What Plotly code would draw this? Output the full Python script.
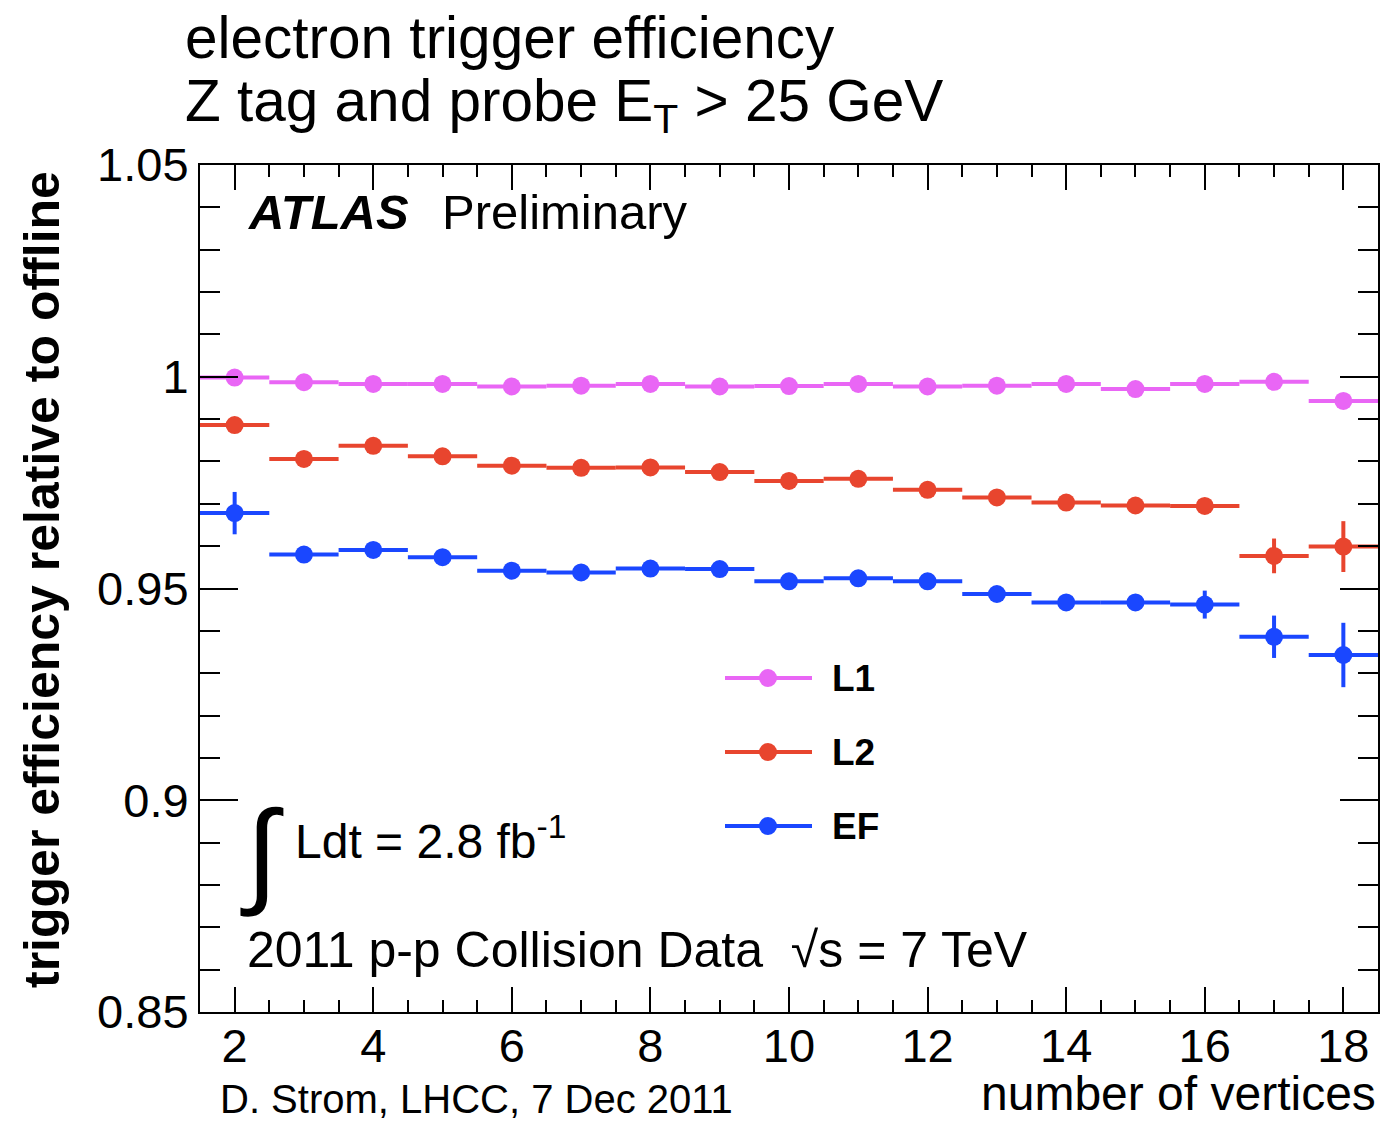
import plotly.graph_objects as go

# ---------------- data ----------------
n_vertices = [2, 3, 4, 5, 6, 7, 8, 9, 10, 11, 12, 13, 14, 15, 16, 17, 18]
bin_half_width = [0.5] * 17

eff_L1 = [0.9998, 0.9987, 0.9983, 0.9983, 0.9977, 0.9979, 0.9983, 0.9977, 0.9978,
          0.9983, 0.9977, 0.9979, 0.9983, 0.9971, 0.9983, 0.9988, 0.9943]
err_L1 = [0.0003, 0.0002, 0.0002, 0.0002, 0.0002, 0.0002, 0.0002, 0.0002, 0.0002,
          0.0002, 0.0002, 0.0002, 0.0003, 0.0003, 0.0003, 0.0005, 0.0008]

eff_L2 = [0.9886, 0.9806, 0.9837, 0.9812, 0.9790, 0.9785, 0.9786, 0.9775, 0.9754,
          0.9759, 0.9733, 0.9715, 0.9703, 0.9696, 0.9695, 0.9577, 0.9599]
err_L2 = [0.0009, 0.0005, 0.0005, 0.0005, 0.0005, 0.0005, 0.0005, 0.0005, 0.0005,
          0.0006, 0.0006, 0.0007, 0.0008, 0.0008, 0.0009, 0.0041, 0.0060]

eff_EF = [0.9678, 0.9580, 0.9591, 0.9574, 0.9542, 0.9538, 0.9547, 0.9546, 0.9517,
          0.9524, 0.9517, 0.9487, 0.9467, 0.9467, 0.9462, 0.9386, 0.9343]
err_EF = [0.0050, 0.0009, 0.0006, 0.0006, 0.0006, 0.0006, 0.0006, 0.0006, 0.0007,
          0.0007, 0.0008, 0.0009, 0.0010, 0.0012, 0.0033, 0.0050, 0.0076]

series_names = ["L1", "L2", "EF"]
series_colors = ["#E966F5", "#E8452E", "#1A47FF"]

x_tick_vals = [2, 4, 6, 8, 10, 12, 14, 16, 18]
y_tick_vals = [0.85, 0.9, 0.95, 1.0, 1.05]
y_tick_text = ["0.85", "0.9", "0.95", "1", "1.05"]

# ---------------- figure ----------------
W, H = 1400, 1121
ML, MR, MT, MB = 200, 22, 165, 109
PW, PH = W - ML - MR, H - MT - MB


def px(xp):
    return (xp - ML) / PW


def py(yp):
    return (H - MB - yp) / PH


FONT = "Liberation Sans, Arial, Helvetica, sans-serif"

fig = go.Figure()
for name, color, vals, errs in zip(series_names, series_colors,
                                   [eff_L1, eff_L2, eff_EF], [err_L1, err_L2, err_EF]):
    fig.add_trace(go.Scatter(
        x=n_vertices, y=vals, mode="markers", name=name,
        marker=dict(color=color, size=18),
        error_x=dict(type="data", array=bin_half_width, color=color, thickness=4, width=0),
        error_y=dict(type="data", array=errs, color=color, thickness=4, width=0),
        showlegend=False,
    ))

fig.update_layout(
    width=W, height=H,
    margin=dict(l=ML, r=MR, t=MT, b=MB, pad=0),
    paper_bgcolor="white", plot_bgcolor="white",
    font=dict(family=FONT, color="black"),
)

fig.update_xaxes(
    range=[1.5, 18.5], tickvals=x_tick_vals, ticks="inside", ticklen=25, tickwidth=2,
    tickcolor="black", showline=True, linewidth=2, linecolor="black", mirror="allticks",
    showgrid=False, zeroline=False, tickfont=dict(size=47, family=FONT),
    ticklabelstandoff=-8,
    minor=dict(dtick=0.5, ticks="inside", ticklen=12, tickwidth=2, tickcolor="black", showgrid=False),
)
fig.update_yaxes(
    range=[0.85, 1.05], tickvals=y_tick_vals, ticktext=y_tick_text, ticks="inside",
    ticklen=38, tickwidth=2, tickcolor="black", showline=True, linewidth=2,
    linecolor="black", mirror="allticks", showgrid=False, zeroline=False,
    tickfont=dict(size=47, family=FONT),
    minor=dict(dtick=0.01, ticks="inside", ticklen=20, tickwidth=2, tickcolor="black", showgrid=False),
)

ann = []


def add_text(text, xp, yp, size, xanchor="left", yanchor="middle", angle=0):
    ann.append(dict(text=text, x=px(xp), y=py(yp), xref="paper", yref="paper",
                    xanchor=xanchor, yanchor=yanchor, showarrow=False, textangle=angle,
                    font=dict(size=size, family=FONT, color="black")))


add_text("electron trigger efficiency", 183, 37, 58.5)
add_text("Z tag and probe E<sub>T</sub> &gt; 25 GeV", 183, 105, 58.5)
add_text("<b><i>ATLAS</i></b>", 246, 212, 49)
add_text("Preliminary", 440, 212, 49)
add_text("∫", 262, 852, 116, xanchor="center")
add_text("Ldt = 2.8 fb<sup>-1</sup>", 293, 838, 48)
add_text("2011 p-p Collision Data  √s = 7 TeV", 245, 950, 50)
add_text("D. Strom, LHCC, 7 Dec 2011", 218, 1099, 40)
add_text("number of vertices", 1378, 1093, 48, xanchor="right")
add_text("<b>trigger efficiency relative to offline</b>", 42, 580, 50, xanchor="center", angle=-90)

# manual legend
shapes = []
legend_y = [678, 752, 826]
for name, color, ly in zip(series_names, series_colors, legend_y):
    shapes.append(dict(type="line", xref="paper", yref="paper", x0=px(725), x1=px(812),
                       y0=py(ly), y1=py(ly), line=dict(color=color, width=4)))
    shapes.append(dict(type="circle", xref="paper", yref="paper", xsizemode="pixel",
                       ysizemode="pixel", xanchor=px(768), yanchor=py(ly),
                       x0=-9, x1=9, y0=-9, y1=9, fillcolor=color, line=dict(width=0)))
    add_text(f"<b>{name}</b>", 830, ly, 37)

fig.update_layout(annotations=ann, shapes=shapes)

fig.write_html("out.html", config={"displayModeBar": False},
               post_script="document.body.style.margin='0px';document.body.style.overflow='hidden';")
